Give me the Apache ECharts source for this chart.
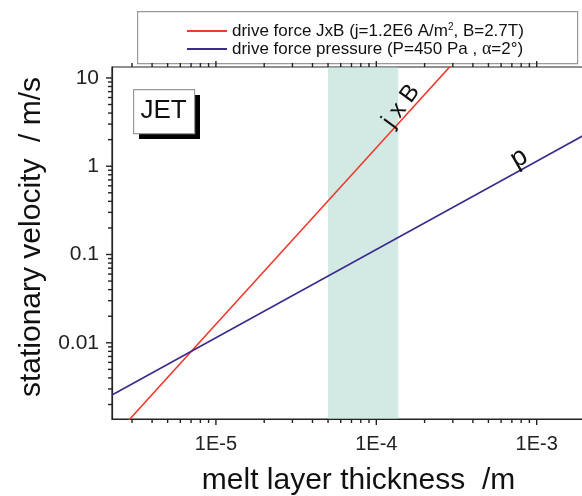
<!DOCTYPE html>
<html>
<head>
<meta charset="utf-8">
<script src="https://cdn.jsdelivr.net/npm/echarts@6/dist/echarts.min.js"></script>
<style>
html,body{margin:0;padding:0;background:#fff;}
#c{width:582px;height:496px;}
</style>
</head>
<body>
<div id="c"></div>
<script>
// ---- data ----
var xRange = [2.25e-6, 2e-3];
var yRange = [0.00137, 13.3];
var jxbX = [2.8e-6, 1e-5, 1e-4, 3e-4];
var jxbY = [0.00127, 0.0162, 1.62, 14.6];
var presX = [2.25e-6, 1e-5, 1e-4, 1e-3, 2e-3];
var presY = [0.00256, 0.0114, 0.114, 1.14, 2.28];
var shadeX = [5.0e-5, 1.37e-4];
var xMajorTicks = [1e-5, 1e-4, 1e-3];
var xMinorTicks = [3e-6,4e-6,5e-6,6e-6,7e-6,8e-6,9e-6,
  2e-5,3e-5,4e-5,5e-5,6e-5,7e-5,8e-5,9e-5,
  2e-4,3e-4,4e-4,5e-4,6e-4,7e-4,8e-4,9e-4];
var yMajorTicks = [0.01, 0.1, 1, 10];
var yMinorTicks = [0.002,0.003,0.004,0.005,0.006,0.007,0.008,0.009,
  0.02,0.03,0.04,0.05,0.06,0.07,0.08,0.09,
  0.2,0.3,0.4,0.5,0.6,0.7,0.8,0.9,
  2,3,4,5,6,7,8,9];
var xTickLabels = {'-5':'1E-5','-4':'1E-4','-3':'1E-3'};
var yTickLabels = {'-2':'0.01','-1':'0.1','0':'1','1':'10'};

function zip(a,b){return a.map(function(v,i){return [v,b[i]];});}
function atY(xs, y){return xs.map(function(v){return [v, y];});}
function atX(ys, x){return ys.map(function(v){return [x, v];});}

var FONT = 'Liberation Sans, Arial, sans-serif';
var chart = echarts.init(document.getElementById('c'));

function logLabel(map){
  return function(v){
    var l = Math.log(v)/Math.LN10;
    var r = Math.round(l);
    if (Math.abs(l - r) < 1e-6 && map[String(r)] !== undefined) return map[String(r)];
    return '';
  };
}

function tickSeries(data, w, h, off){
  return {type:'scatter', data:data, symbol:'rect', symbolSize:[w,h], symbolOffset:off,
    itemStyle:{color:'#222', opacity:1}, clip:false, silent:true, z:20, animation:false,
    emphasis:{disabled:true}, legendHoverLink:false};
}

chart.setOption({
  animation:false,
  backgroundColor:'#fff',
  grid:{left:112, top:67, width:473, height:352, show:true, borderColor:'#222', borderWidth:1.2,
        backgroundColor:'transparent', containLabel:false, outerBoundsMode:'none'},
  legend:{
    orient:'vertical', left:187, top:22, padding:0, itemWidth:40, itemHeight:2, itemGap:0, icon:'rect',
    data:['JxB','pressure'],
    formatter:function(name){
      if(name==='JxB') return '{a|drive force JxB (j=1.2E6 A/m}{s|2}{a|, B=2.7T)}';
      return '{a|drive force pressure (P=450 Pa , }{g|\u03b1}{a|=2\u00b0)}';
    },
    textStyle:{
      color:'#111', fontFamily:FONT, fontSize:17,
      rich:{
        a:{fontSize:17, fontFamily:FONT, color:'#111', lineHeight:18},
        s:{fontSize:10, fontFamily:FONT, color:'#111', verticalAlign:'top', lineHeight:18, padding:[0,0,8,0]},
        g:{fontSize:18, fontFamily:'Liberation Serif, DejaVu Serif, serif', color:'#111', lineHeight:18}
      }
    }
  },
  xAxis:{
    type:'log', min:xRange[0], max:xRange[1], logBase:10,
    axisLine:{show:true, lineStyle:{color:'#222', width:1.2}},
    axisTick:{show:false}, splitLine:{show:false},
    axisLabel:{color:'#222', fontFamily:FONT, fontSize:20, margin:15, formatter:logLabel(xTickLabels), showMinLabel:false, showMaxLabel:false},
    name:'melt layer thickness  /m', nameLocation:'middle', nameGap:47,
    nameTextStyle:{color:'#111', fontFamily:FONT, fontSize:30, padding:[0,0,0,20]}
  },
  yAxis:{
    type:'log', min:yRange[0], max:yRange[1], logBase:10,
    axisLine:{show:true, lineStyle:{color:'#222', width:1.2}},
    axisTick:{show:false}, splitLine:{show:false},
    axisLabel:{color:'#222', fontFamily:FONT, fontSize:21, margin:13, formatter:logLabel(yTickLabels), showMinLabel:false, showMaxLabel:false},
    name:'stationary velocity  / m/s', nameLocation:'middle', nameGap:57,
    nameTextStyle:{color:'#111', fontFamily:FONT, fontSize:30, padding:[0,0,0,12]}
  },
  series:[
    {name:'JxB', type:'line', data:zip(jxbX,jxbY), symbol:'none', showSymbol:false,
     lineStyle:{color:'#f23a2c', width:1.6}, itemStyle:{color:'#f23a2c'}, z:2},
    {name:'pressure', type:'line', data:zip(presX,presY), symbol:'none', showSymbol:false,
     lineStyle:{color:'#3d2a8e', width:1.6}, itemStyle:{color:'#3d2a8e'}, z:2},
    {name:'shade', type:'line', data:[], z:3, silent:true,
     markArea:{silent:true, itemStyle:{color:'rgba(165,214,200,0.5)'},
       data:[[{xAxis:shadeX[0]},{xAxis:shadeX[1]}]]}},
    tickSeries(atY(xMajorTicks, yRange[0]), 1.4, 6, [0, 3]),
    tickSeries(atY(xMinorTicks, yRange[0]), 1.4, 4, [0, 2]),
    tickSeries(atY(xMajorTicks, yRange[1]), 1.4, 6, [0, -3]),
    tickSeries(atY(xMinorTicks, yRange[1]), 1.4, 4, [0, -2]),
    tickSeries(atX(yMajorTicks, xRange[0]), 6, 1.4, [-3, 0]),
    tickSeries(atX(yMinorTicks, xRange[0]), 4, 1.4, [-2, 0])
  ],
  graphic:[
    {type:'rect', z:1, left:137, top:11, shape:{width:440, height:52}, style:{fill:'#fff', stroke:'#999', lineWidth:1.2}},
    {type:'rect', z:10, left:139, top:95, shape:{width:61, height:44}, style:{fill:'#000'}},
    {type:'rect', z:11, left:133, top:89, shape:{width:61, height:44}, style:{fill:'#fff', stroke:'#999', lineWidth:1.2}},
    {type:'text', z:12, x:163.5, y:111, style:{text:'JET', fontFamily:FONT, fontSize:26, fill:'#111', textAlign:'center', textVerticalAlign:'middle'}},
    {type:'text', z:12, x:401, y:106, rotation:54*Math.PI/180, style:{text:'j x B', fontFamily:FONT, fontSize:24, fill:'#111', textAlign:'center', textVerticalAlign:'middle'}},
    {type:'text', z:12, x:519, y:158, rotation:30*Math.PI/180, style:{text:'p', fontFamily:FONT, fontSize:27, fill:'#111', textAlign:'center', textVerticalAlign:'middle'}}
  ]
});
</script>
</body>
</html>
